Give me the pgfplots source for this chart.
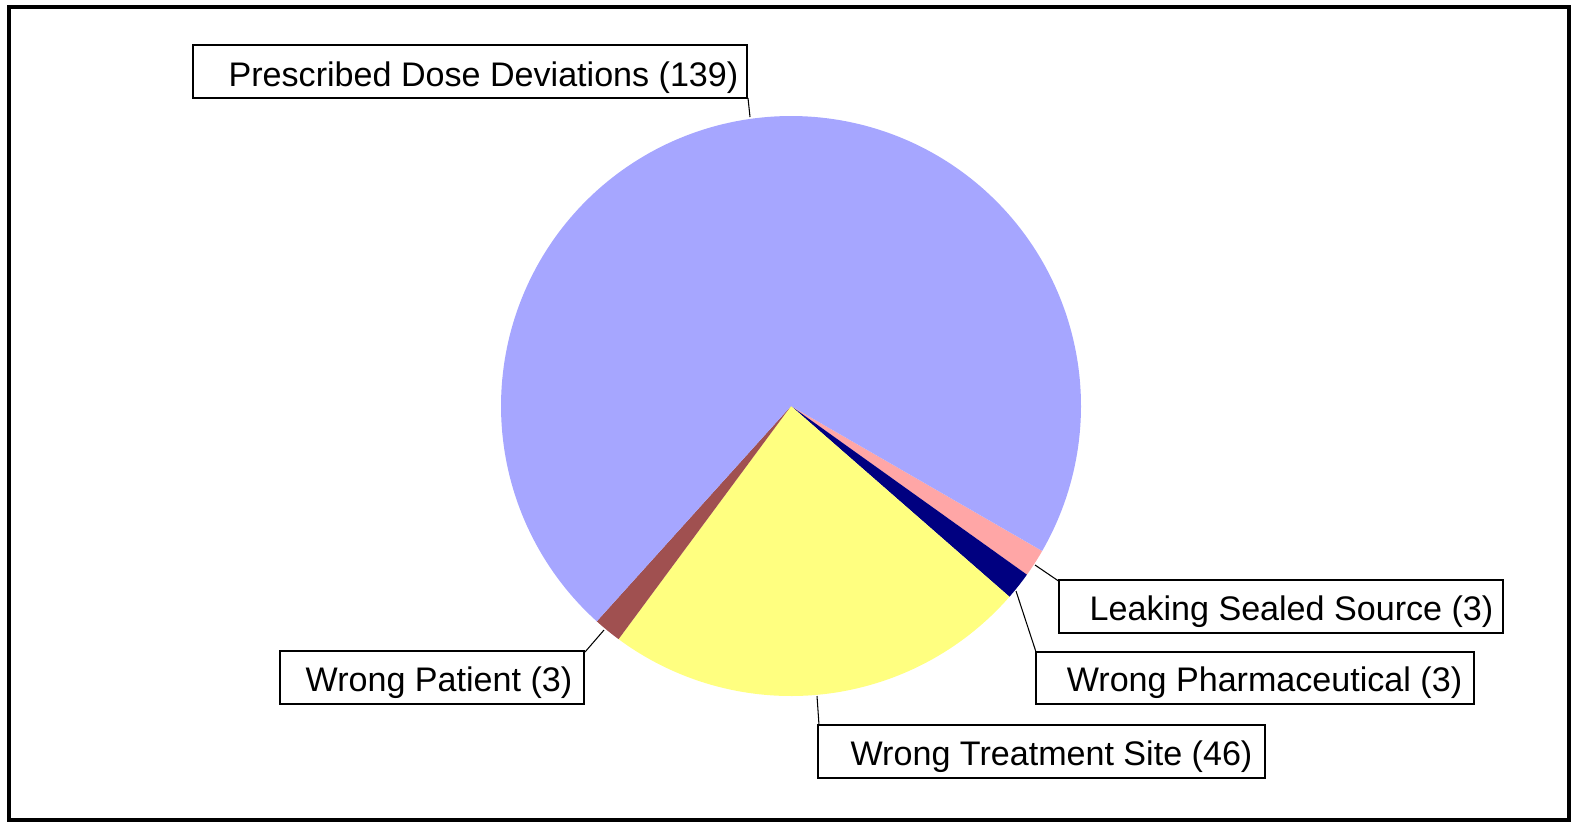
\documentclass[border=0pt]{standalone}
\usepackage{pgfplots}
\pgfplotsset{compat=1.18}
\usepackage{pgfplotstable}
\usepackage{fontspec}
\setmainfont{Liberation Sans}
\definecolor{cLav}{RGB}{166,166,255}
\definecolor{cPink}{RGB}{255,166,166}
\definecolor{cNavy}{RGB}{0,0,128}
\definecolor{cYel}{RGB}{255,255,128}
\definecolor{cBrown}{RGB}{160,80,80}
\tikzset{lbl/.style={font=\fontsize{9.7}{11}\selectfont, inner sep=0pt, anchor=base}}

\pgfplotstableread{
name value
Leaking 3
Pharmaceutical 3
TreatmentSite 46
Patient 3
Prescribed 139
}\piedata

\begin{document}
\begin{tikzpicture}
\pgfplotstablegetelem{0}{value}\of\piedata \pgfmathsetmacro\vA{\pgfplotsretval}
\pgfplotstablegetelem{1}{value}\of\piedata \pgfmathsetmacro\vB{\pgfplotsretval}
\pgfplotstablegetelem{2}{value}\of\piedata \pgfmathsetmacro\vC{\pgfplotsretval}
\pgfplotstablegetelem{3}{value}\of\piedata \pgfmathsetmacro\vD{\pgfplotsretval}
\pgfplotstablegetelem{4}{value}\of\piedata \pgfmathsetmacro\vE{\pgfplotsretval}
\pgfmathsetmacro\T{\vA+\vB+\vC+\vD+\vE}
\pgfmathsetmacro\aO{-30}
\pgfmathsetmacro\aA{\aO-360*(\vA/\T)}
\pgfmathsetmacro\aB{\aA-360*(\vB/\T)}
\pgfmathsetmacro\aC{\aB-360*(\vC/\T)}
\pgfmathsetmacro\aD{\aC-360*(\vD/\T)}
\pgfmathsetmacro\aE{\aD-360*(\vE/\T)}
\begin{axis}[
  width=15.71cm, height=8.22cm, scale only axis,
  xmin=0, xmax=1571, ymin=0, ymax=822, y dir=reverse,
  hide axis, clip=false,
]
\addplot[fill=cPink, draw=none, domain=\aA:\aO, samples=20, variable=\t]
  ({791+290*cos(\t)},{406-290*sin(\t)}) -- (791,406) -- cycle;
\addplot[fill=cNavy, draw=none, domain=\aB:\aA, samples=20, variable=\t]
  ({791+290*cos(\t)},{406-290*sin(\t)}) -- (791,406) -- cycle;
\addplot[fill=cYel, draw=none, domain=\aC:\aB, samples=80, variable=\t]
  ({791+290*cos(\t)},{406-290*sin(\t)}) -- (791,406) -- cycle;
\addplot[fill=cBrown, draw=none, domain=\aD:\aC, samples=20, variable=\t]
  ({791+290*cos(\t)},{406-290*sin(\t)}) -- (791,406) -- cycle;
\addplot[fill=cLav, draw=none, domain=\aE:\aD, samples=200, variable=\t]
  ({791+290*cos(\t)},{406-290*sin(\t)}) -- (791,406) -- cycle;

% frame
\draw[line width=1.1pt] (9,7) rectangle (1569,820);

% leader lines
\draw[line width=0.3pt] (748,98) -- (750,117);
\draw[line width=0.3pt] (585,652) -- (604,630);
\draw[line width=0.3pt] (817,696) -- (819,725);
\draw[line width=0.3pt] (1016,591) -- (1036,652);
\draw[line width=0.3pt] (1035,565) -- (1060,582);

% label boxes
\draw[line width=0.4pt, fill=white] (193,45) rectangle (747,98);
\node[lbl] at (483.5,86) {Prescribed Dose Deviations (139)};
\draw[line width=0.4pt, fill=white] (280,651) rectangle (584,704);
\node[lbl] at (439,691) {Wrong Patient (3)};
\draw[line width=0.4pt, fill=white] (818,725) rectangle (1265,778);
\node[lbl] at (1051.5,765) {Wrong Treatment Site (46)};
\draw[line width=0.4pt, fill=white] (1036,652) rectangle (1474,704);
\node[lbl] at (1264.5,691) {Wrong Pharmaceutical (3)};
\draw[line width=0.4pt, fill=white] (1059,580) rectangle (1503,633);
\node[lbl] at (1291.5,620) {Leaking Sealed Source (3)};
\end{axis}
\pgfresetboundingbox
\path (current axis.south west) rectangle (current axis.north east);
\end{tikzpicture}
\end{document}
